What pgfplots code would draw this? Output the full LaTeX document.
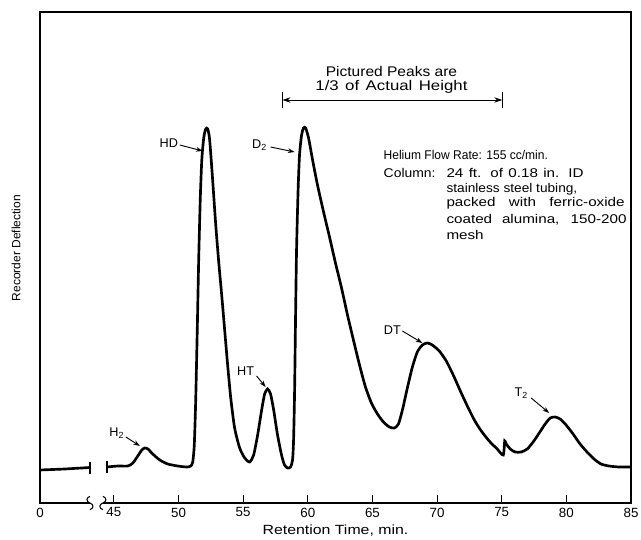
\documentclass[border=0pt]{standalone}
\usepackage{fontspec}
\setmainfont{Liberation Sans}
\usepackage{pgfplots}
\pgfplotsset{compat=1.18}
\usetikzlibrary{arrows.meta}
\newcommand\fs[1]{\fontsize{#1}{#1}\selectfont}
\newcommand\wide[3]{\scalebox{#1}[1]{\makebox[#2][s]{#3}}}
\tikzset{arr/.style={line width=0.7pt, -{Stealth[length=5pt,width=3.5pt]}}}
\begin{document}
\begin{tikzpicture}
\begin{axis}[
 width=443.25pt, height=368.25pt, scale only axis,
 xmin=39.2857, xmax=85, ymin=0, ymax=491,
 axis line style={draw=none},
 xtick={39.2857,45,50,55,60,65,70,75,80,85},
 xticklabels={0,45,50,55,60,65,70,75,80,85},
 ytick=\empty,
 xtick pos=lower, xtick align=inside,
 major tick length=6pt,
 every tick/.style={black, line width=0.8pt},
 xticklabel style={font=\fs{10}},
 clip=false,
]
% frame with break
\draw[line width=1pt] (axis cs:43.15,0) -- (rel axis cs:0,0) -- (rel axis cs:0,1) -- (rel axis cs:1,1) -- (rel axis cs:1,0) -- (axis cs:44.15,0);
\draw[line width=0.8pt] ([yshift=-5pt]axis cs:43.15,0) .. controls +(3pt,1pt) and +(3pt,-1pt) .. (axis cs:43.15,0) .. controls +(-3pt,1pt) and +(-3pt,-1pt) .. ([yshift=5pt]axis cs:43.15,0);
\draw[line width=0.8pt] ([yshift=-5pt]axis cs:44.15,0) .. controls +(-3pt,1pt) and +(-3pt,-1pt) .. (axis cs:44.15,0) .. controls +(3pt,1pt) and +(3pt,-1pt) .. ([yshift=5pt]axis cs:44.15,0);
\coordinate (O) at (rel axis cs:0,0);

% trace, left part
\addplot[black, line width=2pt] coordinates {(39.29,33) (41.2,34) (43.15,35.5)};
\draw[line width=1.1pt] (axis cs:43.15,29) -- (axis cs:43.15,41);
\draw[line width=1.1pt] (axis cs:44.46,30) -- (axis cs:44.46,42);
% trace, main part
\addplot[black, line width=2pt, smooth, tension=0.4] coordinates {
(44.46,36) (45.31,37) (46.08,37) (46.47,40) (46.85,47) (47.16,53) (47.39,55) (47.63,54)
(48.01,49) (48.55,43) (49.17,39) (49.94,37) (50.64,36) (50.95,37) (51.10,41) (51.22,58)
(51.33,103) (51.45,173) (51.56,243) (51.68,303) (51.80,343) (51.95,365) (52.10,374) (52.26,374)
(52.41,363) (52.64,323) (52.88,278) (53.11,241) (53.34,208) (53.57,173) (53.80,138) (54.04,105)
(54.34,75) (54.73,55) (55.12,45) (55.50,41) (55.81,48) (56.12,68) (56.43,93) (56.66,109)
(56.89,114) (57.12,109) (57.36,93) (57.66,68) (57.97,48) (58.20,38) (58.44,35) (58.67,36)
(58.82,43) (58.90,63) (58.98,113) (59.05,183) (59.13,253) (59.25,313) (59.36,348) (59.52,368)
(59.67,375) (59.83,375) (60.06,365) (60.37,343) (60.75,318) (61.22,291) (61.68,266) (62.14,240)
(62.61,215) (63.07,188) (63.53,163) (64.00,138) (64.46,116) (64.92,100) (65.39,89) (65.85,81)
(66.31,76) (66.70,75) (67.01,79) (67.32,93) (67.70,115) (68.09,136) (68.47,151) (68.86,158)
(69.25,160) (69.63,158) (70.17,152) (70.71,142) (71.25,128) (71.80,112) (72.34,97) (72.88,83)
(73.42,72) (74.03,62) (74.65,54) (75.12,48) (75.23,62) (75.35,59) (75.66,54) (76.04,51)
(76.51,51) (76.97,54) (77.43,61) (77.90,70) (78.36,79) (78.75,85) (79.13,86) (79.52,84)
(79.98,78) (80.52,69) (81.06,59) (81.60,51) (82.14,44) (82.68,39) (83.30,37) (84.07,36) (84.92,36)
};

% peak labels
\node[font=\fs{9.5}] at (axis cs:49.25,360) {HD};
\draw[arr] (axis cs:50.10,358) -- (axis cs:51.87,352);
\node[font=\fs{9.5}] at (axis cs:56.27,358) {D\textsubscript{2}};
\draw[arr] (axis cs:57.12,356) -- (axis cs:58.98,351);
\node[font=\fs{9.5}] at (axis cs:55.19,132) {HT};
\draw[arr] (axis cs:56.04,127) -- (axis cs:56.74,116);
\node[font=\fs{9.5}] at (axis cs:66.54,173) {DT};
\draw[arr] (axis cs:67.32,172) -- (axis cs:68.86,160);
\node[font=\fs{9.5}] at (axis cs:76.51,110) {T\textsubscript{2}};
\draw[arr] (axis cs:77.28,105) -- (axis cs:78.67,90);
\node[font=\fs{9.5}] at (axis cs:45.23,70) {H\textsubscript{2}};
\draw[arr] (axis cs:45.93,66) -- (axis cs:47.01,57);

% bracket
\draw[line width=0.7pt, {Bar[width=12pt].Stealth[length=6pt,width=4pt]}-{Stealth[length=6pt,width=4pt].Bar[width=12pt]}] (axis cs:57.97,403) -- (axis cs:75.12,403);
\node[font=\fs{10.5}] at (axis cs:66.47,431) {\scalebox{1.11}[1]{Pictured Peaks are}};
\node[font=\fs{10.5}] at (axis cs:66.47,416) {\wide{1.2}{95pt}{1/3 of Actual Height}};

% conditions
\node[font=\fs{9.5}, anchor=base west, inner sep=0pt] at (axis cs:65.85,343) {\scalebox{0.95}[1]{Helium Flow Rate: 155 cc/min.}};
\node[font=\fs{9.5}, anchor=base west, inner sep=0pt] at (axis cs:65.85,325) {\scalebox{1.1}[1]{Column:}};
\node[font=\fs{9.5}, anchor=base west, inner sep=0pt] at (axis cs:70.71,325) {\wide{1.2}{85.6pt}{24 ft. of 0.18 in. ID}};
\node[font=\fs{9.5}, anchor=base west, inner sep=0pt] at (axis cs:70.71,310) {\scalebox{1.08}[1]{stainless steel tubing,}};
\node[font=\fs{9.5}, anchor=base west, inner sep=0pt] at (axis cs:70.71,296) {\wide{1.2}{111.3pt}{packed with ferric-oxide}};
\node[font=\fs{9.5}, anchor=base west, inner sep=0pt] at (axis cs:70.71,279) {\wide{1.2}{112.5pt}{coated alumina, 150-200}};
\node[font=\fs{9.5}, anchor=base west, inner sep=0pt] at (axis cs:70.71,263) {\scalebox{1.2}[1]{mesh}};

% axis labels
\node[font=\fs{10}, yshift=-21pt] at (axis cs:62.14,0) {\scalebox{1.19}[1]{Retention Time, min.}};
\node[font=\fs{9}, rotate=90] at ([xshift=-18pt]rel axis cs:0,0.519) {Recorder Deflection};
\end{axis}
\pgfresetboundingbox
\path[use as bounding box] ([shift={(-30pt,-27pt)}]O) rectangle ([shift={(450.75pt,377.25pt)}]O);
\end{tikzpicture}
\end{document}
